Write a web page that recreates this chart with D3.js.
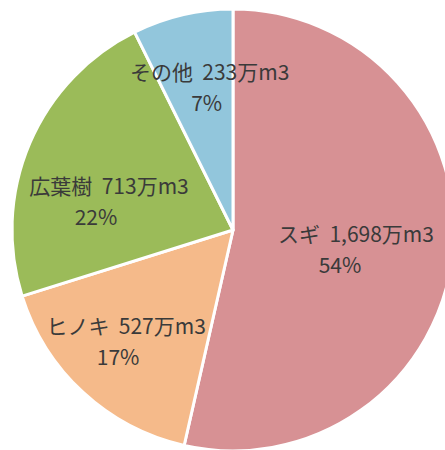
<!DOCTYPE html>
<html>
<head>
<meta charset="utf-8">
<script src="https://cdn.jsdelivr.net/npm/d3@7/dist/d3.min.js"></script>
<style>
  body { margin: 0; background: #fff; }
  svg { display: block; }
  .lbl { font-family: "Noto Sans CJK JP", "Noto Sans", sans-serif; font-size: 21px; fill: #3a3a3a; white-space: pre; }
</style>
</head>
<body>
<div class="container"></div>
<script>
var categories = ['スギ', 'ヒノキ', '広葉樹', 'その他'];
var volumes = [1698, 527, 713, 233];
var volumeLabels = ['1,698万m3', '527万m3', '713万m3', '233万m3'];
var percentLabels = ['54%', '17%', '22%', '7%'];
var colors = ['#D79194', '#F5BA8A', '#9BBB59', '#92C6DC'];

const WIDTH = 445;
const HEIGHT = 450;
const CX = 233;
const CY = 230;
const RADIUS = 221;

// label placement tweaks (Excel nudges labels to fit)
var labelRadius = [0.56, 0.70, 0.60, 0.64];
var labelShift = [[0, 6], [-2, -2], [-2, 24], [9, -4]];
var pctShift = [-16, -8, -13, -3];

var loadChart = function () {
    var svg = d3.select('.container').append('svg')
        .attr('width', WIDTH)
        .attr('height', HEIGHT);

    var g = svg.append('g')
        .attr('transform', 'translate(' + CX + ',' + CY + ')');

    var pie = d3.pie().sort(null).value(function (d) { return d; });
    var arcs = pie(volumes);

    var arc = d3.arc().innerRadius(0).outerRadius(RADIUS);

    g.selectAll('path')
        .data(arcs)
        .enter()
        .append('path')
        .attr('d', arc)
        .attr('fill', function (d, i) { return colors[i]; })
        .attr('stroke', '#fff')
        .attr('stroke-width', 3)
        .attr('stroke-linejoin', 'round');

    var labels = g.selectAll('g.lbl-g')
        .data(arcs)
        .enter()
        .append('g')
        .attr('class', 'lbl-g')
        .attr('transform', function (d, i) {
            var r = RADIUS * labelRadius[i];
            var c = d3.arc().innerRadius(r).outerRadius(r).centroid(d);
            return 'translate(' + (c[0] + labelShift[i][0]) + ',' + (c[1] + labelShift[i][1]) + ')';
        });

    labels.append('text')
        .attr('class', 'lbl')
        .attr('text-anchor', 'middle')
        .attr('y', -8)
        .text(function (d, i) { return categories[i] + '  ' + volumeLabels[i]; });

    labels.append('text')
        .attr('class', 'lbl')
        .attr('text-anchor', 'middle')
        .attr('x', function (d, i) { return pctShift[i]; })
        .attr('y', 23)
        .text(function (d, i) { return percentLabels[i]; });
};

window.onload = loadChart;
</script>
</body>
</html>
